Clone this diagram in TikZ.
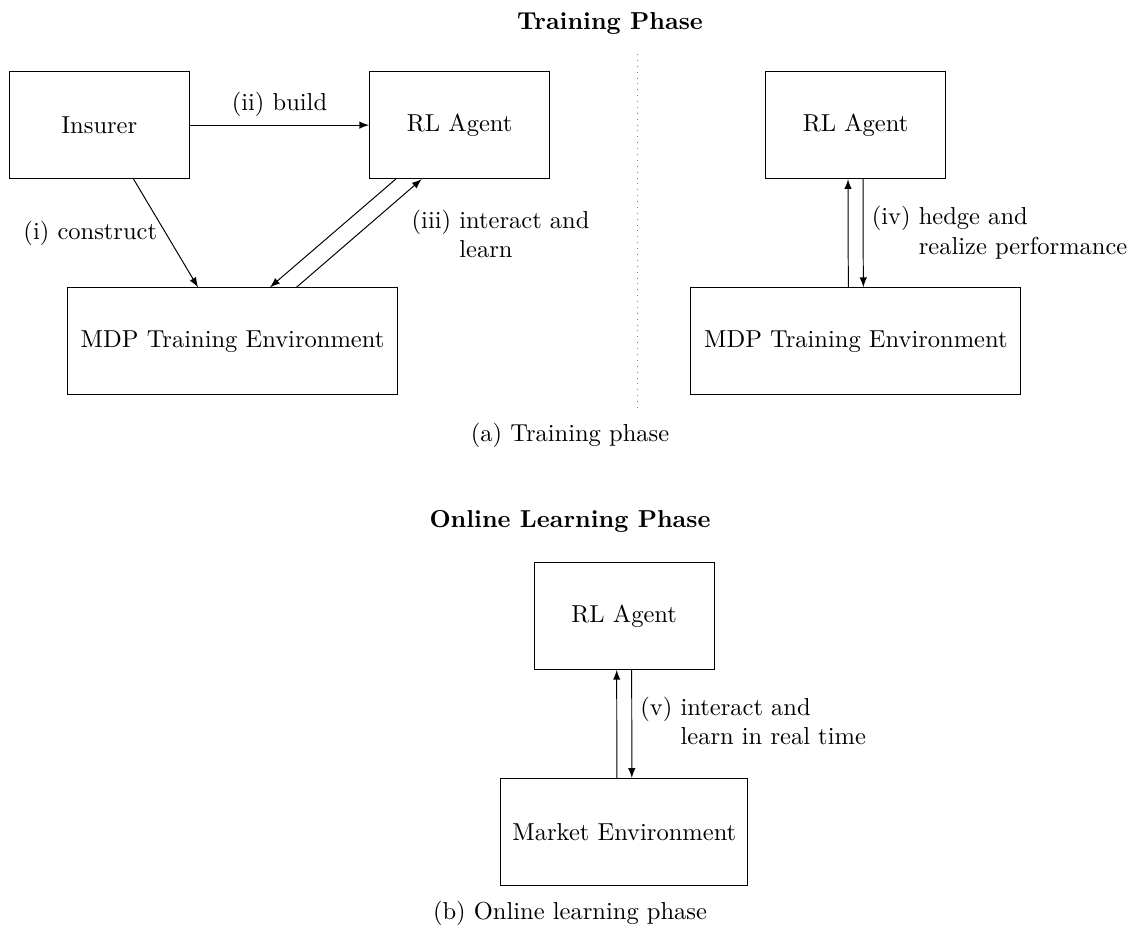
\documentclass[tikz,border=0pt]{standalone}
\usepackage{amsmath, amssymb}
\usepackage{xcolor}
\usetikzlibrary{calc, positioning}

\begin{document}
\begin{tikzpicture}[>=latex, x=0.408pt, y=-0.408pt,
    box/.style={draw, minimum width=73.5pt, minimum height=43.7pt},
    widebox/.style={box, minimum width=134.6pt},
    lbl/.style={align=left}]
    % Khung hình
    \useasboundingbox (0,0) rectangle (1141,930);

    % (a) Giai đoạn huấn luyện, phần trái
    \node[font=\bfseries] (titleA) at (610,23) {Training Phase};
    \node[box] (ins) at (99.3,125.1) {Insurer};
    \node[box] (rlA) at (459.7,125.1) {RL Agent};
    \node[widebox] (mdpA) at (232.5,341.3) {MDP Training Environment};

    \draw[->] (ins.east) -- node[above] {(ii) build} (rlA.west);
    \draw[->] ($(ins.south)+(34.3,0)$) -- node[left] {(i) construct} ($(mdpA.north)+(-34.5,0)$);
    \draw[->] ($(rlA.south)+(-64,0)$) -- ($(mdpA.north)+(37.5,0)$);
    \draw[->] ($(mdpA.north)+(64,0)$) -- ($(rlA.south)+(-38,0)$);
    \node[lbl, anchor=west] (lblA) at (403,237) {(iii) interact and\\\phantom{(iii) }learn};

    % Đường chấm phân cách
    \coordinate (sepTop) at (637.7,54);
    \coordinate (sepBot) at (637.7,411.7);
    \draw[dotted, gray] (sepTop) -- (sepBot);

    % (a) Giai đoạn huấn luyện, phần phải
    \node[box] (rlB) at (855.5,125.1) {RL Agent};
    \node[widebox] (mdpB) at (855.8,341.3) {MDP Training Environment};
    \draw[->] ($(mdpB.north)+(-7.5,0)$) -- ($(rlB.south)+(-7.5,0)$);
    \draw[->] ($(rlB.south)+(7.5,0)$) -- node[right, lbl] {(iv) hedge and\\\phantom{(iv) }realize performance} ($(mdpB.north)+(7.5,0)$);
    \node (capA) at (570,435) {(a) Training phase};

    % (b) Giai đoạn học trực tuyến
    \node[font=\bfseries] (titleB) at (570,521) {Online Learning Phase};
    \node[box] (rlC) at (624.2,615.8) {RL Agent};
    \node[box, minimum width=100.7pt] (mkt) at (624.3,832) {Market Environment};
    \draw[->] ($(mkt.north)+(-7.5,0)$) -- ($(rlC.south)+(-7.5,0)$);
    \draw[->] ($(rlC.south)+(7.5,0)$) -- node[right, lbl] {(v) interact and\\\phantom{(v) }learn in real time} ($(mkt.north)+(7.5,0)$);
    \node (capB) at (570,913) {(b) Online learning phase};
\end{tikzpicture}
\end{document}
